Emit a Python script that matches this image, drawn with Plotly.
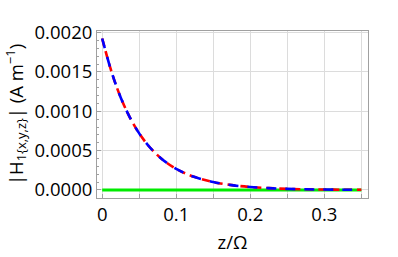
import plotly.graph_objects as go

z_vals = [0.0, 0.0125, 0.025, 0.0375, 0.05, 0.0625, 0.075, 0.0875, 0.1, 0.1125, 0.125,
          0.15, 0.175, 0.2, 0.225, 0.25, 0.275, 0.3, 0.325, 0.35]
h_x = [0.001925, 0.001505, 0.001176, 0.000920, 0.000719, 0.000562, 0.000439, 0.000343,
       0.000268, 0.000210, 0.000164, 0.000100, 0.0000613, 0.0000374, 0.0000229,
       0.0000140, 0.0000085, 0.0000052, 0.0000032, 0.0000019]
h_y = list(h_x)
h_z = [0.0] * len(z_vals)

x_tickvals = [0, 0.05, 0.1, 0.15, 0.2, 0.25, 0.3, 0.35]
x_ticktext = ["0", "", "0.1", "", "0.2", "", "0.3", ""]
y_tickvals = [0.0, 0.0005, 0.0010, 0.0015, 0.0020]
y_ticktext = ["0.0000", "0.0005", "0.0010", "0.0015", "0.0020"]

fig = go.Figure()
fig.add_trace(go.Scatter(x=z_vals, y=h_z, mode="lines",
                         line=dict(color="rgb(0,235,0)", width=3)))
fig.add_trace(go.Scatter(x=z_vals, y=h_x, mode="lines", line_shape="spline",
                         line=dict(color="red", width=2.6, dash="8px,5px")))
fig.add_trace(go.Scatter(x=z_vals, y=h_y, mode="lines", line_shape="spline",
                         line=dict(color="blue", width=2.6, dash="10px,9px")))

font = dict(family="Open Sans", size=18.5, color="black")
fig.update_layout(
    width=398, height=257,
    margin=dict(l=97, r=30, t=31, b=59),
    paper_bgcolor="white", plot_bgcolor="white",
    showlegend=False, font=font,
)
fig.update_xaxes(
    range=[-0.007, 0.359], tickvals=x_tickvals, ticktext=x_ticktext,
    automargin=False,
    showline=True, linecolor="#a0a0a0", linewidth=1, mirror=True,
    ticks="inside", ticklen=4, tickcolor="#a0a0a0",
    showgrid=True, gridcolor="#dcdcdc", gridwidth=1, zeroline=False,
    title=dict(text="z/Ω", font=font, standoff=10),
    tickfont=font,
)
fig.update_yaxes(
    range=[-0.000102, 0.00202], tickvals=y_tickvals, ticktext=y_ticktext,
    automargin=False,
    showline=True, linecolor="#a0a0a0", linewidth=1, mirror=True,
    ticks="inside", ticklen=4, tickcolor="#a0a0a0",
    minor=dict(ticks="inside", ticklen=2, tickcolor="#a0a0a0", dtick=0.0001, showgrid=False),
    showgrid=True, gridcolor="#dcdcdc", gridwidth=1, zeroline=False,
    title=dict(text="|H<sub>1{x,y,z}</sub>| (A m<sup>−1</sup>)", font=font, standoff=6),
    tickfont=font,
)
fig.write_html("out.html", config={"displayModeBar": False},
               post_script="document.body.style.margin='0';")
